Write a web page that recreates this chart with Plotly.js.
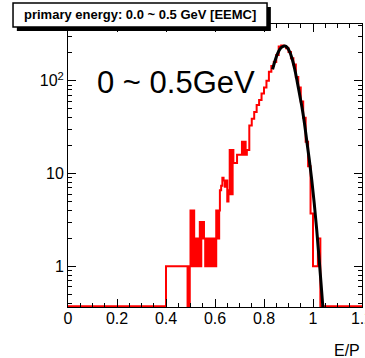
<!DOCTYPE html>
<html>
<head>
<meta charset="utf-8">
<script src="https://cdn.plot.ly/plotly-3.0.1.min.js"></script>
<style>html,body{margin:0;padding:0;background:#fff;}#chart{width:365px;height:358px;}</style>
</head>
<body>
<div id="chart"></div>
<script>
// Red histogram: left bin edges and contents (empty bins drawn on the frame floor)
const FLOOR = 0.37;
const histEdges = [0.000,0.400,0.488,0.491,0.494,0.497,0.500,0.503,0.506,0.509,0.512,0.515,0.518,0.521,0.524,0.527,0.530,0.535,0.538,0.541,0.544,0.547,0.550,0.555,0.560,0.563,0.566,0.569,0.575,0.578,0.581,0.584,0.587,0.590,0.593,0.596,0.600,0.605,0.608,0.611,0.614,0.617,0.620,0.625,0.630,0.635,0.640,0.645,0.650,0.655,0.660,0.663,0.666,0.669,0.672,0.675,0.680,0.690,0.700,0.710,0.713,0.716,0.719,0.722,0.725,0.730,0.740,0.750,0.760,0.770,0.780,0.790,0.800,0.810,0.820,0.830,0.840,0.850,0.860,0.870,0.880,0.890,0.900,0.910,0.920,0.930,0.940,0.950,0.960,0.970,0.980,0.990,1.000,1.010,1.020,1.030,1.200];
const histValues = [FLOOR,1,FLOOR,1,FLOOR,1,4,1,4,1,4,1,2,1,2,1,2,1,3,1,3,2,3,2,1,2,1,2,1,2,1,2,1,2,1,2,1,4,2,4,2,4,6.6,7.4,9,8.4,7.2,8.4,5,6.6,18,6,18,6,18,13,13,16,16,22,16,22,16,22,16,18,33,39,46,55,62,73,85,100,125,145,160,190,235,240,238,225,205,175,150,110,85,60,40,22,12,3.7,1,1,2,FLOOR,FLOOR];

// Black fit curve
const fitX = [0.835,0.845,0.855,0.865,0.875,0.885,0.895,0.905,0.915,0.925,0.935,0.945,0.955,0.965,0.975,0.985,0.995,1.005,1.015,1.025,1.035,1.045];
const fitY = [133,165,195,220,233,237,228,205,172,135,100,72,52,35,22,14,8.5,4.8,2.5,1.2,0.55,0.25];

// Axis ticks
const xTicks = [0,0.2,0.4,0.6,0.8,1,1.2];
const xTickText = ['0','0.2','0.4','0.6','0.8','1','1.2'];
const yTicks = [1,10,100];
const yTickText = ['1','10','10<sup>2</sup>'];
const yMinorTicks = [0.4,0.5,0.6,0.7,0.8,0.9,2,3,4,5,6,7,8,9,20,30,40,50,60,70,80,90,200,300,400];

const titleText = 'primary energy: 0.0 ~ 0.5 GeV [EEMC]';
const labelText = '0 ~ 0.5GeV';
const xTitleText = 'E/P';

const font = 'Liberation Sans, Arial, sans-serif';

const traces = [
  {x: histEdges, y: histValues, type: 'scatter', mode: 'lines',
   line: {shape: 'hv', color: '#ff0000', width: 2}, hoverinfo: 'skip'},
  {x: fitX, y: fitY, type: 'scatter', mode: 'lines',
   line: {shape: 'spline', color: '#000000', width: 3}, hoverinfo: 'skip'}
];

const axisCommon = {
  showgrid: false, zeroline: false, showline: true, linecolor: '#000', linewidth: 1,
  ticks: 'inside', tickcolor: '#000', tickwidth: 1, mirror: 'allticks',
  ticklabeloverflow: 'allow',
  tickfont: {family: font, size: 16, color: '#000'}
};

const layout = {
  width: 365, height: 358,
  margin: {l: 68, r: 3, t: 24, b: 51},
  paper_bgcolor: '#fff', plot_bgcolor: '#fff',
  showlegend: false,
  xaxis: Object.assign({}, axisCommon, {
    range: [0, 1.2], tickvals: xTicks, ticktext: xTickText, ticklen: 8,
    ticklabelstandoff: -3,
    minor: {dtick: 0.05, ticks: 'inside', ticklen: 4, tickcolor: '#000'}
  }),
  yaxis: Object.assign({}, axisCommon, {
    type: 'log', range: [Math.log10(0.364), 2.613], tickvals: yTicks, ticktext: yTickText, ticklen: 8,
    minor: {tickvals: yMinorTicks, ticks: 'inside', ticklen: 4, tickcolor: '#000'}
  }),
  shapes: [
    {type: 'rect', xref: 'paper', yref: 'paper', x0: -0.174, x1: 0.690, y0: 0.975, y1: 1.060,
     fillcolor: '#000', line: {width: 0}, layer: 'above'},
    {type: 'rect', xref: 'paper', yref: 'paper', x0: -0.187, x1: 0.677, y0: 0.989, y1: 1.074,
     fillcolor: '#fff', line: {color: '#000', width: 1.5}, layer: 'above'}
  ],
  annotations: [
    {text: '<b>' + titleText + '</b>', xref: 'paper', yref: 'paper', x: 0.245, y: 1.032,
     xanchor: 'center', yanchor: 'middle', showarrow: false,
     font: {family: font, size: 13, color: '#000'}},
    {text: labelText, xref: 'paper', yref: 'paper', x: 0.367, y: 0.793,
     xanchor: 'center', yanchor: 'middle', showarrow: false,
     font: {family: font, size: 31, color: '#000'}},
    {text: xTitleText, xref: 'paper', yref: 'paper', x: 1, y: -0.153,
     xanchor: 'right', yanchor: 'middle', showarrow: false,
     font: {family: font, size: 16, color: '#000'}}
  ]
};

Plotly.newPlot('chart', traces, layout, {staticPlot: true, displayModeBar: false});
</script>
</body>
</html>
